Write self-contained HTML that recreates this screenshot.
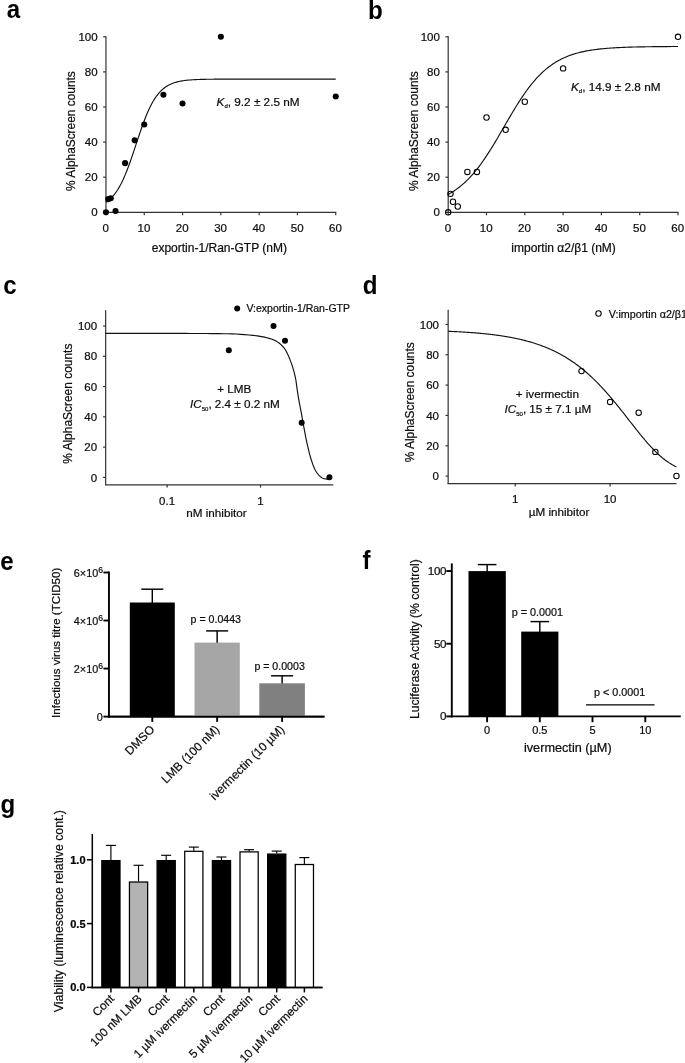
<!DOCTYPE html>
<html><head><meta charset="utf-8"><title>Figure</title>
<style>
html,body{margin:0;padding:0;background:#fff;}
svg{display:block;font-family:"Liberation Sans",sans-serif;will-change:transform;}
</style></head>
<body>
<svg width="685" height="1063" viewBox="0 0 685 1063">
<rect width="685" height="1063" fill="#fff"/>
<text transform="translate(6.80 17.60) scale(1.05,1.1)" font-size="23" font-weight="bold" fill="#000">a</text>
<text transform="translate(368.00 18.90) scale(1.05,1.1)" font-size="23" font-weight="bold" fill="#000">b</text>
<text transform="translate(3.20 293.90) scale(1.05,1.1)" font-size="23" font-weight="bold" fill="#000">c</text>
<text transform="translate(362.80 293.70) scale(1.05,1.1)" font-size="23" font-weight="bold" fill="#000">d</text>
<text transform="translate(0.30 569.50) scale(1.05,1.1)" font-size="23" font-weight="bold" fill="#000">e</text>
<text transform="translate(362.50 568.90) scale(1.05,1.1)" font-size="23" font-weight="bold" fill="#000">f</text>
<text transform="translate(0.40 813.10) scale(1.05,1.1)" font-size="23" font-weight="bold" fill="#000">g</text>
<line x1="105.95" y1="36.30" x2="105.95" y2="212.80" stroke="#333" stroke-width="1.2" />
<line x1="105.45" y1="212.30" x2="336.25" y2="212.30" stroke="#333" stroke-width="1.2" />
<line x1="103.15" y1="212.30" x2="105.95" y2="212.30" stroke="#333" stroke-width="1.2" />
<text x="97.65" y="216.40" font-size="11.5" text-anchor="end" fill="#0d0d0d" stroke="#0d0d0d" stroke-width="0.22" >0</text>
<line x1="103.15" y1="177.20" x2="105.95" y2="177.20" stroke="#333" stroke-width="1.2" />
<text x="97.65" y="181.30" font-size="11.5" text-anchor="end" fill="#0d0d0d" stroke="#0d0d0d" stroke-width="0.22" >20</text>
<line x1="103.15" y1="142.10" x2="105.95" y2="142.10" stroke="#333" stroke-width="1.2" />
<text x="97.65" y="146.20" font-size="11.5" text-anchor="end" fill="#0d0d0d" stroke="#0d0d0d" stroke-width="0.22" >40</text>
<line x1="103.15" y1="107.00" x2="105.95" y2="107.00" stroke="#333" stroke-width="1.2" />
<text x="97.65" y="111.10" font-size="11.5" text-anchor="end" fill="#0d0d0d" stroke="#0d0d0d" stroke-width="0.22" >60</text>
<line x1="103.15" y1="71.90" x2="105.95" y2="71.90" stroke="#333" stroke-width="1.2" />
<text x="97.65" y="76.00" font-size="11.5" text-anchor="end" fill="#0d0d0d" stroke="#0d0d0d" stroke-width="0.22" >80</text>
<line x1="103.15" y1="36.80" x2="105.95" y2="36.80" stroke="#333" stroke-width="1.2" />
<text x="97.65" y="40.90" font-size="11.5" text-anchor="end" fill="#0d0d0d" stroke="#0d0d0d" stroke-width="0.22" >100</text>
<line x1="105.95" y1="212.30" x2="105.95" y2="215.30" stroke="#333" stroke-width="1.2" />
<text x="105.65" y="231.70" font-size="11.5" text-anchor="middle" fill="#0d0d0d" stroke="#0d0d0d" stroke-width="0.22" >0</text>
<line x1="144.25" y1="212.30" x2="144.25" y2="215.30" stroke="#333" stroke-width="1.2" />
<text x="143.95" y="231.70" font-size="11.5" text-anchor="middle" fill="#0d0d0d" stroke="#0d0d0d" stroke-width="0.22" >10</text>
<line x1="182.55" y1="212.30" x2="182.55" y2="215.30" stroke="#333" stroke-width="1.2" />
<text x="182.25" y="231.70" font-size="11.5" text-anchor="middle" fill="#0d0d0d" stroke="#0d0d0d" stroke-width="0.22" >20</text>
<line x1="220.85" y1="212.30" x2="220.85" y2="215.30" stroke="#333" stroke-width="1.2" />
<text x="220.55" y="231.70" font-size="11.5" text-anchor="middle" fill="#0d0d0d" stroke="#0d0d0d" stroke-width="0.22" >30</text>
<line x1="259.15" y1="212.30" x2="259.15" y2="215.30" stroke="#333" stroke-width="1.2" />
<text x="258.85" y="231.70" font-size="11.5" text-anchor="middle" fill="#0d0d0d" stroke="#0d0d0d" stroke-width="0.22" >40</text>
<line x1="297.45" y1="212.30" x2="297.45" y2="215.30" stroke="#333" stroke-width="1.2" />
<text x="297.15" y="231.70" font-size="11.5" text-anchor="middle" fill="#0d0d0d" stroke="#0d0d0d" stroke-width="0.22" >50</text>
<line x1="335.75" y1="212.30" x2="335.75" y2="215.30" stroke="#333" stroke-width="1.2" />
<text x="335.45" y="231.70" font-size="11.5" text-anchor="middle" fill="#0d0d0d" stroke="#0d0d0d" stroke-width="0.22" >60</text>
<text x="75.45" y="131.05" font-size="11.9" text-anchor="middle" fill="#0d0d0d" stroke="#0d0d0d" stroke-width="0.22" transform="rotate(-90 75.45 131.05)" >% AlphaScreen counts</text>
<text x="219.35" y="251.50" font-size="12" text-anchor="middle" fill="#0d0d0d" stroke="#0d0d0d" stroke-width="0.22" >exportin-1/Ran-GTP (nM)</text>
<path d="M105.95,202.32 L107.10,201.52 L108.26,200.64 L109.41,199.67 L110.57,198.62 L111.72,197.46 L112.88,196.20 L114.03,194.83 L115.19,193.34 L116.34,191.73 L117.50,189.99 L118.65,188.11 L119.81,186.10 L120.96,183.94 L122.12,181.64 L123.27,179.20 L124.43,176.61 L125.58,173.88 L126.74,171.02 L127.89,168.04 L129.05,164.93 L130.20,161.72 L131.36,158.42 L132.51,155.04 L133.66,151.60 L134.82,148.13 L135.97,144.63 L137.13,141.13 L138.28,137.65 L139.44,134.21 L140.59,130.83 L141.75,127.52 L142.90,124.31 L144.06,121.19 L145.21,118.20 L146.37,115.33 L147.52,112.59 L148.68,109.99 L149.83,107.54 L150.99,105.23 L152.14,103.06 L153.30,101.04 L154.45,99.15 L155.61,97.40 L156.76,95.78 L157.91,94.28 L159.07,92.90 L160.22,91.64 L161.38,90.47 L162.53,89.41 L163.69,88.44 L164.84,87.55 L166.00,86.74 L167.15,86.01 L168.31,85.34 L169.46,84.73 L170.62,84.18 L171.77,83.68 L172.93,83.23 L174.08,82.82 L175.24,82.46 L176.39,82.12 L177.55,81.82 L178.70,81.55 L179.86,81.31 L181.01,81.08 L182.17,80.89 L183.32,80.71 L184.47,80.54 L185.63,80.40 L186.78,80.27 L187.94,80.15 L189.09,80.04 L190.25,79.95 L191.40,79.86 L192.56,79.78 L193.71,79.71 L194.87,79.65 L196.02,79.60 L197.18,79.55 L198.33,79.50 L199.49,79.46 L200.64,79.42 L201.80,79.39 L202.95,79.36 L204.11,79.33 L205.26,79.31 L206.42,79.29 L207.57,79.27 L208.72,79.25 L209.88,79.23 L211.03,79.22 L212.19,79.21 L213.34,79.20 L214.50,79.19 L215.65,79.18 L216.81,79.17 L217.96,79.16 L219.12,79.15 L220.27,79.15 L221.43,79.14 L222.58,79.14 L223.74,79.13 L224.89,79.13 L226.05,79.13 L227.20,79.12 L228.36,79.12 L229.51,79.12 L230.67,79.12 L231.82,79.11 L232.98,79.11 L234.13,79.11 L235.28,79.11 L236.44,79.11 L237.59,79.11 L238.75,79.11 L239.90,79.10 L241.06,79.10 L242.21,79.10 L243.37,79.10 L244.52,79.10 L245.68,79.10 L246.83,79.10 L247.99,79.10 L249.14,79.10 L250.30,79.10 L251.45,79.10 L252.61,79.10 L253.76,79.10 L254.92,79.10 L256.07,79.10 L257.23,79.10 L258.38,79.10 L259.53,79.10 L260.69,79.10 L261.84,79.10 L263.00,79.10 L264.15,79.10 L265.31,79.10 L266.46,79.10 L267.62,79.10 L268.77,79.10 L269.93,79.10 L271.08,79.10 L272.24,79.10 L273.39,79.10 L274.55,79.10 L275.70,79.10 L276.86,79.10 L278.01,79.10 L279.17,79.10 L280.32,79.10 L281.48,79.10 L282.63,79.10 L283.79,79.10 L284.94,79.10 L286.09,79.10 L287.25,79.10 L288.40,79.10 L289.56,79.10 L290.71,79.10 L291.87,79.10 L293.02,79.10 L294.18,79.10 L295.33,79.10 L296.49,79.10 L297.64,79.10 L298.80,79.10 L299.95,79.10 L301.11,79.10 L302.26,79.10 L303.42,79.10 L304.57,79.10 L305.73,79.10 L306.88,79.10 L308.04,79.10 L309.19,79.10 L310.34,79.10 L311.50,79.10 L312.65,79.10 L313.81,79.10 L314.96,79.10 L316.12,79.10 L317.27,79.10 L318.43,79.10 L319.58,79.10 L320.74,79.10 L321.89,79.10 L323.05,79.10 L324.20,79.10 L325.36,79.10 L326.51,79.10 L327.67,79.10 L328.82,79.10 L329.98,79.10 L331.13,79.10 L332.29,79.10 L333.44,79.10 L334.60,79.10 L335.75,79.10" fill="none" stroke="#111" stroke-width="1.15" stroke-linejoin="round"/>
<circle cx="105.95" cy="212.30" r="3.05" fill="#000" stroke="none" stroke-width="1"/>
<circle cx="108.25" cy="199.14" r="3.05" fill="#000" stroke="none" stroke-width="1"/>
<circle cx="110.74" cy="198.26" r="3.05" fill="#000" stroke="none" stroke-width="1"/>
<circle cx="115.53" cy="211.07" r="3.05" fill="#000" stroke="none" stroke-width="1"/>
<circle cx="125.10" cy="163.16" r="3.05" fill="#000" stroke="none" stroke-width="1"/>
<circle cx="134.68" cy="140.35" r="3.05" fill="#000" stroke="none" stroke-width="1"/>
<circle cx="144.25" cy="124.55" r="3.05" fill="#000" stroke="none" stroke-width="1"/>
<circle cx="163.40" cy="94.72" r="3.05" fill="#000" stroke="none" stroke-width="1"/>
<circle cx="182.55" cy="103.49" r="3.05" fill="#000" stroke="none" stroke-width="1"/>
<circle cx="220.85" cy="36.80" r="3.05" fill="#000" stroke="none" stroke-width="1"/>
<circle cx="335.75" cy="96.47" r="3.05" fill="#000" stroke="none" stroke-width="1"/>
<text x="216.60" y="106.20" font-size="11.75" text-anchor="start" fill="#0d0d0d" stroke="#0d0d0d" stroke-width="0.22" ><tspan font-style="italic">K</tspan><tspan font-size="6" dy="2.2">d</tspan><tspan dy="-2.2">, 9.2 ± 2.5 nM</tspan></text>
<line x1="448.20" y1="36.30" x2="448.20" y2="212.80" stroke="#333" stroke-width="1.2" />
<line x1="447.70" y1="212.30" x2="678.50" y2="212.30" stroke="#333" stroke-width="1.2" />
<line x1="445.40" y1="212.30" x2="448.20" y2="212.30" stroke="#333" stroke-width="1.2" />
<text x="439.90" y="216.40" font-size="11.5" text-anchor="end" fill="#0d0d0d" stroke="#0d0d0d" stroke-width="0.22" >0</text>
<line x1="445.40" y1="177.20" x2="448.20" y2="177.20" stroke="#333" stroke-width="1.2" />
<text x="439.90" y="181.30" font-size="11.5" text-anchor="end" fill="#0d0d0d" stroke="#0d0d0d" stroke-width="0.22" >20</text>
<line x1="445.40" y1="142.10" x2="448.20" y2="142.10" stroke="#333" stroke-width="1.2" />
<text x="439.90" y="146.20" font-size="11.5" text-anchor="end" fill="#0d0d0d" stroke="#0d0d0d" stroke-width="0.22" >40</text>
<line x1="445.40" y1="107.00" x2="448.20" y2="107.00" stroke="#333" stroke-width="1.2" />
<text x="439.90" y="111.10" font-size="11.5" text-anchor="end" fill="#0d0d0d" stroke="#0d0d0d" stroke-width="0.22" >60</text>
<line x1="445.40" y1="71.90" x2="448.20" y2="71.90" stroke="#333" stroke-width="1.2" />
<text x="439.90" y="76.00" font-size="11.5" text-anchor="end" fill="#0d0d0d" stroke="#0d0d0d" stroke-width="0.22" >80</text>
<line x1="445.40" y1="36.80" x2="448.20" y2="36.80" stroke="#333" stroke-width="1.2" />
<text x="439.90" y="40.90" font-size="11.5" text-anchor="end" fill="#0d0d0d" stroke="#0d0d0d" stroke-width="0.22" >100</text>
<line x1="448.20" y1="212.30" x2="448.20" y2="215.30" stroke="#333" stroke-width="1.2" />
<text x="447.90" y="231.70" font-size="11.5" text-anchor="middle" fill="#0d0d0d" stroke="#0d0d0d" stroke-width="0.22" >0</text>
<line x1="486.50" y1="212.30" x2="486.50" y2="215.30" stroke="#333" stroke-width="1.2" />
<text x="486.20" y="231.70" font-size="11.5" text-anchor="middle" fill="#0d0d0d" stroke="#0d0d0d" stroke-width="0.22" >10</text>
<line x1="524.80" y1="212.30" x2="524.80" y2="215.30" stroke="#333" stroke-width="1.2" />
<text x="524.50" y="231.70" font-size="11.5" text-anchor="middle" fill="#0d0d0d" stroke="#0d0d0d" stroke-width="0.22" >20</text>
<line x1="563.10" y1="212.30" x2="563.10" y2="215.30" stroke="#333" stroke-width="1.2" />
<text x="562.80" y="231.70" font-size="11.5" text-anchor="middle" fill="#0d0d0d" stroke="#0d0d0d" stroke-width="0.22" >30</text>
<line x1="601.40" y1="212.30" x2="601.40" y2="215.30" stroke="#333" stroke-width="1.2" />
<text x="601.10" y="231.70" font-size="11.5" text-anchor="middle" fill="#0d0d0d" stroke="#0d0d0d" stroke-width="0.22" >40</text>
<line x1="639.70" y1="212.30" x2="639.70" y2="215.30" stroke="#333" stroke-width="1.2" />
<text x="639.40" y="231.70" font-size="11.5" text-anchor="middle" fill="#0d0d0d" stroke="#0d0d0d" stroke-width="0.22" >50</text>
<line x1="678.00" y1="212.30" x2="678.00" y2="215.30" stroke="#333" stroke-width="1.2" />
<text x="677.70" y="231.70" font-size="11.5" text-anchor="middle" fill="#0d0d0d" stroke="#0d0d0d" stroke-width="0.22" >60</text>
<text x="417.70" y="131.05" font-size="11.9" text-anchor="middle" fill="#0d0d0d" stroke="#0d0d0d" stroke-width="0.22" transform="rotate(-90 417.70 131.05)" >% AlphaScreen counts</text>
<text x="563.60" y="251.50" font-size="12" text-anchor="middle" fill="#0d0d0d" stroke="#0d0d0d" stroke-width="0.22" >importin α2/β1 (nM)</text>
<path d="M448.20,194.36 L449.35,193.73 L450.51,193.08 L451.66,192.39 L452.82,191.68 L453.97,190.94 L455.13,190.17 L456.28,189.37 L457.44,188.54 L458.59,187.67 L459.75,186.78 L460.90,185.85 L462.06,184.88 L463.21,183.89 L464.37,182.85 L465.52,181.79 L466.68,180.68 L467.83,179.54 L468.99,178.36 L470.14,177.14 L471.30,175.89 L472.45,174.60 L473.61,173.26 L474.76,171.90 L475.91,170.49 L477.07,169.05 L478.22,167.56 L479.38,166.04 L480.53,164.49 L481.69,162.90 L482.84,161.27 L484.00,159.61 L485.15,157.92 L486.31,156.19 L487.46,154.43 L488.62,152.65 L489.77,150.83 L490.93,148.99 L492.08,147.13 L493.24,145.24 L494.39,143.33 L495.55,141.40 L496.70,139.45 L497.86,137.49 L499.01,135.52 L500.16,133.54 L501.32,131.55 L502.47,129.55 L503.63,127.55 L504.78,125.56 L505.94,123.56 L507.09,121.57 L508.25,119.58 L509.40,117.60 L510.56,115.64 L511.71,113.69 L512.87,111.75 L514.02,109.84 L515.18,107.94 L516.33,106.07 L517.49,104.22 L518.64,102.39 L519.80,100.60 L520.95,98.83 L522.11,97.09 L523.26,95.39 L524.42,93.72 L525.57,92.08 L526.72,90.47 L527.88,88.91 L529.03,87.38 L530.19,85.88 L531.34,84.42 L532.50,83.00 L533.65,81.62 L534.81,80.28 L535.96,78.97 L537.12,77.71 L538.27,76.48 L539.43,75.28 L540.58,74.13 L541.74,73.01 L542.89,71.93 L544.05,70.89 L545.20,69.88 L546.36,68.90 L547.51,67.96 L548.67,67.05 L549.82,66.18 L550.97,65.34 L552.13,64.53 L553.28,63.74 L554.44,62.99 L555.59,62.27 L556.75,61.58 L557.90,60.91 L559.06,60.27 L560.21,59.66 L561.37,59.07 L562.52,58.50 L563.68,57.96 L564.83,57.44 L565.99,56.95 L567.14,56.47 L568.30,56.01 L569.45,55.57 L570.61,55.16 L571.76,54.76 L572.92,54.37 L574.07,54.01 L575.23,53.66 L576.38,53.32 L577.53,53.00 L578.69,52.70 L579.84,52.41 L581.00,52.13 L582.15,51.86 L583.31,51.61 L584.46,51.36 L585.62,51.13 L586.77,50.91 L587.93,50.70 L589.08,50.50 L590.24,50.31 L591.39,50.12 L592.55,49.95 L593.70,49.78 L594.86,49.62 L596.01,49.47 L597.17,49.32 L598.32,49.19 L599.48,49.06 L600.63,48.93 L601.78,48.81 L602.94,48.70 L604.09,48.59 L605.25,48.48 L606.40,48.39 L607.56,48.29 L608.71,48.20 L609.87,48.12 L611.02,48.04 L612.18,47.96 L613.33,47.88 L614.49,47.81 L615.64,47.75 L616.80,47.68 L617.95,47.62 L619.11,47.57 L620.26,47.51 L621.42,47.46 L622.57,47.41 L623.73,47.36 L624.88,47.32 L626.04,47.27 L627.19,47.23 L628.34,47.19 L629.50,47.15 L630.65,47.12 L631.81,47.09 L632.96,47.05 L634.12,47.02 L635.27,46.99 L636.43,46.97 L637.58,46.94 L638.74,46.91 L639.89,46.89 L641.05,46.87 L642.20,46.85 L643.36,46.83 L644.51,46.81 L645.67,46.79 L646.82,46.77 L647.98,46.75 L649.13,46.74 L650.29,46.72 L651.44,46.71 L652.59,46.69 L653.75,46.68 L654.90,46.67 L656.06,46.65 L657.21,46.64 L658.37,46.63 L659.52,46.62 L660.68,46.61 L661.83,46.60 L662.99,46.59 L664.14,46.59 L665.30,46.58 L666.45,46.57 L667.61,46.56 L668.76,46.55 L669.92,46.55 L671.07,46.54 L672.23,46.54 L673.38,46.53 L674.54,46.52 L675.69,46.52 L676.85,46.51 L678.00,46.51" fill="none" stroke="#111" stroke-width="1.15" stroke-linejoin="round"/>
<circle cx="448.20" cy="212.30" r="2.7" fill="none" stroke="#000" stroke-width="1.05"/>
<circle cx="450.50" cy="193.87" r="2.7" fill="none" stroke="#000" stroke-width="1.05"/>
<circle cx="452.99" cy="201.77" r="2.7" fill="none" stroke="#000" stroke-width="1.05"/>
<circle cx="457.77" cy="206.51" r="2.7" fill="none" stroke="#000" stroke-width="1.05"/>
<circle cx="467.35" cy="171.94" r="2.7" fill="none" stroke="#000" stroke-width="1.05"/>
<circle cx="476.93" cy="171.94" r="2.7" fill="none" stroke="#000" stroke-width="1.05"/>
<circle cx="486.50" cy="117.53" r="2.7" fill="none" stroke="#000" stroke-width="1.05"/>
<circle cx="505.65" cy="129.81" r="2.7" fill="none" stroke="#000" stroke-width="1.05"/>
<circle cx="524.80" cy="101.74" r="2.7" fill="none" stroke="#000" stroke-width="1.05"/>
<circle cx="563.10" cy="68.39" r="2.7" fill="none" stroke="#000" stroke-width="1.05"/>
<circle cx="678.00" cy="36.80" r="2.7" fill="none" stroke="#000" stroke-width="1.05"/>
<text x="571.00" y="91.00" font-size="11.75" text-anchor="start" fill="#0d0d0d" stroke="#0d0d0d" stroke-width="0.22" ><tspan font-style="italic">K</tspan><tspan font-size="6" dy="2.2">d</tspan><tspan dy="-2.2">, 14.9 ± 2.8 nM</tspan></text>
<line x1="105.65" y1="310.30" x2="105.65" y2="485.30" stroke="#333" stroke-width="1.2" />
<line x1="105.15" y1="484.80" x2="333.30" y2="484.80" stroke="#333" stroke-width="1.2" />
<line x1="103.05" y1="477.40" x2="105.65" y2="477.40" stroke="#333" stroke-width="1.2" />
<text x="97.10" y="481.60" font-size="11.5" text-anchor="end" fill="#0d0d0d" stroke="#0d0d0d" stroke-width="0.22" >0</text>
<line x1="103.05" y1="447.12" x2="105.65" y2="447.12" stroke="#333" stroke-width="1.2" />
<text x="97.10" y="451.32" font-size="11.5" text-anchor="end" fill="#0d0d0d" stroke="#0d0d0d" stroke-width="0.22" >20</text>
<line x1="103.05" y1="416.84" x2="105.65" y2="416.84" stroke="#333" stroke-width="1.2" />
<text x="97.10" y="421.04" font-size="11.5" text-anchor="end" fill="#0d0d0d" stroke="#0d0d0d" stroke-width="0.22" >40</text>
<line x1="103.05" y1="386.56" x2="105.65" y2="386.56" stroke="#333" stroke-width="1.2" />
<text x="97.10" y="390.76" font-size="11.5" text-anchor="end" fill="#0d0d0d" stroke="#0d0d0d" stroke-width="0.22" >60</text>
<line x1="103.05" y1="356.28" x2="105.65" y2="356.28" stroke="#333" stroke-width="1.2" />
<text x="97.10" y="360.48" font-size="11.5" text-anchor="end" fill="#0d0d0d" stroke="#0d0d0d" stroke-width="0.22" >80</text>
<line x1="103.05" y1="326.00" x2="105.65" y2="326.00" stroke="#333" stroke-width="1.2" />
<text x="97.10" y="330.20" font-size="11.5" text-anchor="end" fill="#0d0d0d" stroke="#0d0d0d" stroke-width="0.22" >100</text>
<line x1="167.10" y1="484.80" x2="167.10" y2="487.60" stroke="#333" stroke-width="1.2" />
<text x="167.10" y="505.30" font-size="11.5" text-anchor="middle" fill="#0d0d0d" stroke="#0d0d0d" stroke-width="0.22" >0.1</text>
<line x1="260.50" y1="484.80" x2="260.50" y2="487.60" stroke="#333" stroke-width="1.2" />
<text x="260.50" y="505.30" font-size="11.5" text-anchor="middle" fill="#0d0d0d" stroke="#0d0d0d" stroke-width="0.22" >1</text>
<text x="72.50" y="403.70" font-size="11.95" text-anchor="middle" fill="#0d0d0d" stroke="#0d0d0d" stroke-width="0.22" transform="rotate(-90 72.50 403.70)" >% AlphaScreen counts</text>
<text x="216.50" y="517.30" font-size="11.7" text-anchor="middle" fill="#0d0d0d" stroke="#0d0d0d" stroke-width="0.22" >nM inhibitor</text>
<path d="M105.65,333.40 L109.86,333.40 L114.08,333.40 L118.29,333.40 L122.51,333.40 L126.72,333.40 L130.93,333.40 L135.15,333.40 L139.36,333.40 L143.58,333.40 L147.79,333.40 L152.01,333.40 L156.22,333.40 L160.43,333.40 L164.65,333.40 L168.86,333.40 L173.08,333.40 L177.29,333.41 L181.50,333.42 L185.72,333.43 L189.93,333.45 L194.15,333.47 L198.36,333.49 L202.57,333.52 L206.79,333.55 L211.00,333.59 L215.22,333.63 L219.43,333.67 L223.64,333.72 L227.86,333.77 L232.07,333.85 L236.29,334.04 L240.50,334.32 L244.72,334.62 L248.93,334.99 L253.14,335.43 L257.36,335.94 L261.57,336.58 L265.79,337.43 L270.00,338.58 L270.37,338.70 L270.75,338.82 L271.12,338.95 L271.49,339.08 L271.87,339.21 L272.24,339.35 L272.62,339.49 L272.99,339.64 L273.36,339.79 L273.74,339.94 L274.11,340.10 L274.48,340.27 L274.86,340.44 L275.23,340.62 L275.60,340.80 L275.98,340.99 L276.35,341.19 L276.72,341.40 L277.10,341.63 L277.47,341.88 L277.85,342.13 L278.22,342.40 L278.59,342.67 L278.97,342.96 L279.34,343.25 L279.71,343.55 L280.09,343.85 L280.46,344.17 L280.83,344.51 L281.21,344.86 L281.58,345.23 L281.95,345.61 L282.33,346.01 L282.70,346.41 L283.08,346.83 L283.45,347.27 L283.82,347.72 L284.20,348.20 L284.57,348.70 L284.94,349.22 L285.32,349.78 L285.69,350.38 L286.06,351.02 L286.44,351.69 L286.81,352.40 L287.18,353.14 L287.56,353.90 L287.93,354.68 L288.31,355.50 L288.68,356.36 L289.05,357.25 L289.43,358.18 L289.80,359.13 L290.17,360.10 L290.55,361.09 L290.92,362.09 L291.29,363.11 L291.67,364.16 L292.04,365.25 L292.42,366.38 L292.79,367.57 L293.16,368.81 L293.54,370.09 L293.91,371.41 L294.28,372.79 L294.66,374.26 L295.03,375.85 L295.40,377.59 L295.78,379.53 L296.15,381.96 L296.52,384.78 L296.90,387.65 L297.27,390.27 L297.65,392.70 L298.02,395.06 L298.39,397.34 L298.77,399.54 L299.14,401.63 L299.51,403.60 L299.89,405.51 L300.26,407.39 L300.63,409.30 L301.01,411.28 L301.38,413.32 L301.75,415.40 L302.13,417.48 L302.50,419.56 L302.88,421.62 L303.25,423.68 L303.62,425.74 L304.00,427.78 L304.37,429.80 L304.74,431.81 L305.12,433.81 L305.49,435.80 L305.86,437.74 L306.24,439.60 L306.61,441.37 L306.98,443.07 L307.36,444.71 L307.73,446.32 L308.11,447.90 L308.48,449.47 L308.85,451.03 L309.23,452.56 L309.60,454.04 L309.97,455.44 L310.35,456.77 L310.72,458.03 L311.09,459.24 L311.47,460.41 L311.84,461.53 L312.22,462.62 L312.59,463.69 L312.96,464.72 L313.34,465.70 L313.71,466.64 L314.08,467.53 L314.46,468.39 L314.83,469.20 L315.20,469.97 L315.58,470.68 L315.95,471.33 L316.32,471.92 L316.70,472.48 L317.07,473.01 L317.45,473.50 L317.82,473.97 L318.19,474.42 L318.57,474.85 L318.94,475.25 L319.31,475.62 L319.69,475.97 L320.06,476.32 L320.43,476.66 L320.81,476.99 L321.18,477.30 L321.55,477.57 L321.93,477.81 L322.30,478.00 L322.68,478.16 L323.05,478.31 L323.42,478.45 L323.80,478.57 L324.17,478.68 L324.54,478.77 L324.92,478.85 L325.29,478.91 L325.66,478.97 L326.04,479.03 L326.41,479.08 L326.78,479.13 L327.16,479.16 L327.53,479.19 L327.91,479.20 L328.28,479.18 L328.65,479.12 L329.03,479.02 L329.40,478.90" fill="none" stroke="#111" stroke-width="1.15" stroke-linejoin="round"/>
<circle cx="228.82" cy="350.30" r="3.0" fill="#000" stroke="none" stroke-width="1"/>
<circle cx="273.51" cy="325.89" r="3.0" fill="#000" stroke="none" stroke-width="1"/>
<circle cx="285.01" cy="340.69" r="3.0" fill="#000" stroke="none" stroke-width="1"/>
<circle cx="301.68" cy="422.81" r="3.0" fill="#000" stroke="none" stroke-width="1"/>
<circle cx="329.43" cy="477.20" r="3.0" fill="#000" stroke="none" stroke-width="1"/>
<circle cx="237.20" cy="308.40" r="3.0" fill="#000" stroke="none" stroke-width="1"/>
<text x="246.50" y="311.80" font-size="10.5" text-anchor="start" fill="#0d0d0d" stroke="#0d0d0d" stroke-width="0.22" >V:exportin-1/Ran-GTP</text>
<text x="234.20" y="392.50" font-size="11.7" text-anchor="middle" fill="#0d0d0d" stroke="#0d0d0d" stroke-width="0.22" >+ LMB</text>
<text x="190.00" y="408.00" font-size="11.7" text-anchor="start" fill="#0d0d0d" stroke="#0d0d0d" stroke-width="0.22" ><tspan font-style="italic">IC</tspan><tspan font-size="6" dy="2.5">50</tspan><tspan dy="-2.5">, 2.4 ± 0.2 nM</tspan></text>
<line x1="448.15" y1="309.80" x2="448.15" y2="484.10" stroke="#333" stroke-width="1.2" />
<line x1="447.65" y1="483.60" x2="676.50" y2="483.60" stroke="#333" stroke-width="1.2" />
<line x1="445.55" y1="476.10" x2="448.15" y2="476.10" stroke="#333" stroke-width="1.2" />
<text x="438.95" y="480.30" font-size="11.5" text-anchor="end" fill="#0d0d0d" stroke="#0d0d0d" stroke-width="0.22" >0</text>
<line x1="445.55" y1="445.76" x2="448.15" y2="445.76" stroke="#333" stroke-width="1.2" />
<text x="438.95" y="449.96" font-size="11.5" text-anchor="end" fill="#0d0d0d" stroke="#0d0d0d" stroke-width="0.22" >20</text>
<line x1="445.55" y1="415.42" x2="448.15" y2="415.42" stroke="#333" stroke-width="1.2" />
<text x="438.95" y="419.62" font-size="11.5" text-anchor="end" fill="#0d0d0d" stroke="#0d0d0d" stroke-width="0.22" >40</text>
<line x1="445.55" y1="385.08" x2="448.15" y2="385.08" stroke="#333" stroke-width="1.2" />
<text x="438.95" y="389.28" font-size="11.5" text-anchor="end" fill="#0d0d0d" stroke="#0d0d0d" stroke-width="0.22" >60</text>
<line x1="445.55" y1="354.74" x2="448.15" y2="354.74" stroke="#333" stroke-width="1.2" />
<text x="438.95" y="358.94" font-size="11.5" text-anchor="end" fill="#0d0d0d" stroke="#0d0d0d" stroke-width="0.22" >80</text>
<line x1="445.55" y1="324.40" x2="448.15" y2="324.40" stroke="#333" stroke-width="1.2" />
<text x="438.95" y="328.60" font-size="11.5" text-anchor="end" fill="#0d0d0d" stroke="#0d0d0d" stroke-width="0.22" >100</text>
<line x1="515.20" y1="483.60" x2="515.20" y2="486.40" stroke="#333" stroke-width="1.2" />
<text x="515.20" y="503.10" font-size="11.5" text-anchor="middle" fill="#0d0d0d" stroke="#0d0d0d" stroke-width="0.22" >1</text>
<line x1="610.10" y1="483.60" x2="610.10" y2="486.40" stroke="#333" stroke-width="1.2" />
<text x="610.10" y="503.10" font-size="11.5" text-anchor="middle" fill="#0d0d0d" stroke="#0d0d0d" stroke-width="0.22" >10</text>
<text x="413.85" y="402.25" font-size="11.95" text-anchor="middle" fill="#0d0d0d" stroke="#0d0d0d" stroke-width="0.22" transform="rotate(-90 413.85 402.25)" >% AlphaScreen counts</text>
<text x="559.00" y="516.10" font-size="11.7" text-anchor="middle" fill="#0d0d0d" stroke="#0d0d0d" stroke-width="0.22" >µM inhibitor</text>
<path d="M448.15,331.28 L448.91,331.31 L449.68,331.34 L450.44,331.38 L451.20,331.41 L451.97,331.45 L452.73,331.48 L453.49,331.52 L454.26,331.56 L455.02,331.59 L455.78,331.63 L456.55,331.67 L457.31,331.71 L458.08,331.75 L458.84,331.80 L459.60,331.84 L460.37,331.88 L461.13,331.93 L461.89,331.97 L462.66,332.02 L463.42,332.06 L464.18,332.11 L464.95,332.16 L465.71,332.21 L466.47,332.26 L467.24,332.31 L468.00,332.36 L468.76,332.41 L469.53,332.47 L470.29,332.52 L471.05,332.58 L471.82,332.63 L472.58,332.69 L473.35,332.75 L474.11,332.81 L474.87,332.87 L475.64,332.93 L476.40,333.00 L477.16,333.06 L477.93,333.13 L478.69,333.19 L479.45,333.26 L480.22,333.33 L480.98,333.40 L481.74,333.47 L482.51,333.55 L483.27,333.62 L484.03,333.70 L484.80,333.77 L485.56,333.85 L486.32,333.93 L487.09,334.01 L487.85,334.10 L488.61,334.18 L489.38,334.27 L490.14,334.35 L490.91,334.44 L491.67,334.53 L492.43,334.63 L493.20,334.72 L493.96,334.82 L494.72,334.91 L495.49,335.01 L496.25,335.11 L497.01,335.22 L497.78,335.32 L498.54,335.43 L499.30,335.54 L500.07,335.65 L500.83,335.76 L501.59,335.87 L502.36,335.99 L503.12,336.11 L503.88,336.23 L504.65,336.35 L505.41,336.48 L506.17,336.60 L506.94,336.73 L507.70,336.86 L508.47,337.00 L509.23,337.13 L509.99,337.27 L510.76,337.41 L511.52,337.56 L512.28,337.70 L513.05,337.85 L513.81,338.00 L514.57,338.16 L515.34,338.31 L516.10,338.47 L516.86,338.64 L517.63,338.80 L518.39,338.97 L519.15,339.14 L519.92,339.31 L520.68,339.49 L521.44,339.67 L522.21,339.85 L522.97,340.04 L523.74,340.23 L524.50,340.42 L525.26,340.62 L526.03,340.82 L526.79,341.02 L527.55,341.23 L528.32,341.44 L529.08,341.65 L529.84,341.87 L530.61,342.09 L531.37,342.31 L532.13,342.54 L532.90,342.77 L533.66,343.01 L534.42,343.25 L535.19,343.49 L535.95,343.74 L536.71,343.99 L537.48,344.25 L538.24,344.51 L539.00,344.77 L539.77,345.04 L540.53,345.32 L541.30,345.60 L542.06,345.88 L542.82,346.17 L543.59,346.46 L544.35,346.76 L545.11,347.06 L545.88,347.36 L546.64,347.68 L547.40,347.99 L548.17,348.31 L548.93,348.64 L549.69,348.97 L550.46,349.31 L551.22,349.65 L551.98,350.00 L552.75,350.36 L553.51,350.72 L554.27,351.08 L555.04,351.45 L555.80,351.83 L556.56,352.21 L557.33,352.60 L558.09,352.99 L558.86,353.39 L559.62,353.80 L560.38,354.21 L561.15,354.63 L561.91,355.06 L562.67,355.49 L563.44,355.93 L564.20,356.37 L564.96,356.82 L565.73,357.28 L566.49,357.75 L567.25,358.22 L568.02,358.70 L568.78,359.18 L569.54,359.67 L570.31,360.17 L571.07,360.68 L571.83,361.19 L572.60,361.71 L573.36,362.24 L574.13,362.77 L574.89,363.32 L575.65,363.87 L576.42,364.42 L577.18,364.99 L577.94,365.56 L578.71,366.14 L579.47,366.73 L580.23,367.32 L581.00,367.93 L581.76,368.54 L582.52,369.15 L583.29,369.78 L584.05,370.41 L584.81,371.06 L585.58,371.70 L586.34,372.36 L587.10,373.03 L587.87,373.70 L588.63,374.38 L589.39,375.07 L590.16,375.77 L590.92,376.47 L591.69,377.19 L592.45,377.91 L593.21,378.64 L593.98,379.37 L594.74,380.12 L595.50,380.87 L596.27,381.63 L597.03,382.40 L597.79,383.17 L598.56,383.96 L599.32,384.75 L600.08,385.55 L600.85,386.35 L601.61,387.17 L602.37,387.99 L603.14,388.81 L603.90,389.65 L604.66,390.49 L605.43,391.34 L606.19,392.20 L606.96,393.06 L607.72,393.93 L608.48,394.81 L609.25,395.69 L610.01,396.58 L610.77,397.47 L611.54,398.37 L612.30,399.28 L613.06,400.19 L613.83,401.11 L614.59,402.04 L615.35,402.96 L616.12,403.90 L616.88,404.83 L617.64,405.78 L618.41,406.72 L619.17,407.67 L619.93,408.63 L620.70,409.59 L621.46,410.55 L622.22,411.51 L622.99,412.48 L623.75,413.45 L624.52,414.42 L625.28,415.39 L626.04,416.37 L626.81,417.34 L627.57,418.32 L628.33,419.30 L629.10,420.28 L629.86,421.25 L630.62,422.23 L631.39,423.21 L632.15,424.18 L632.91,425.16 L633.68,426.13 L634.44,427.10 L635.20,428.07 L635.97,429.03 L636.73,430.00 L637.49,430.96 L638.26,431.91 L639.02,432.86 L639.78,433.80 L640.55,434.74 L641.31,435.68 L642.08,436.61 L642.84,437.53 L643.60,438.44 L644.37,439.35 L645.13,440.25 L645.89,441.15 L646.66,442.03 L647.42,442.91 L648.18,443.77 L648.95,444.63 L649.71,445.48 L650.47,446.31 L651.24,447.14 L652.00,447.96 L652.76,448.76 L653.53,449.56 L654.29,450.34 L655.05,451.11 L655.82,451.86 L656.58,452.61 L657.35,453.34 L658.11,454.06 L658.87,454.76 L659.64,455.45 L660.40,456.13 L661.16,456.79 L661.93,457.44 L662.69,458.07 L663.45,458.69 L664.22,459.30 L664.98,459.89 L665.74,460.46 L666.51,461.02 L667.27,461.56 L668.03,462.09 L668.80,462.61 L669.56,463.11 L670.32,463.59 L671.09,464.06 L671.85,464.51 L672.61,464.95 L673.38,465.37 L674.14,465.78 L674.91,466.18 L675.67,466.55 L676.43,466.92" fill="none" stroke="#111" stroke-width="1.15" stroke-linejoin="round"/>
<circle cx="581.53" cy="371.12" r="2.7" fill="none" stroke="#000" stroke-width="1.05"/>
<circle cx="610.10" cy="401.92" r="2.7" fill="none" stroke="#000" stroke-width="1.05"/>
<circle cx="638.67" cy="412.69" r="2.7" fill="none" stroke="#000" stroke-width="1.05"/>
<circle cx="655.38" cy="451.90" r="2.7" fill="none" stroke="#000" stroke-width="1.05"/>
<circle cx="676.43" cy="475.99" r="2.7" fill="none" stroke="#000" stroke-width="1.05"/>
<circle cx="598.50" cy="313.50" r="2.7" fill="none" stroke="#000" stroke-width="1.05"/>
<text x="608.70" y="317.70" font-size="10.75" text-anchor="start" fill="#0d0d0d" stroke="#0d0d0d" stroke-width="0.22" >V:importin α2/β1</text>
<text x="547.30" y="397.90" font-size="11.7" text-anchor="middle" fill="#0d0d0d" stroke="#0d0d0d" stroke-width="0.22" >+ ivermectin</text>
<text x="504.50" y="413.00" font-size="11.7" text-anchor="start" fill="#0d0d0d" stroke="#0d0d0d" stroke-width="0.22" ><tspan font-style="italic">IC</tspan><tspan font-size="6" dy="2.5">50</tspan><tspan dy="-2.5">, 15 ± 7.1 µM</tspan></text>
<line x1="108.95" y1="571.40" x2="108.95" y2="717.55" stroke="#000" stroke-width="1.9" />
<line x1="108.00" y1="716.60" x2="324.50" y2="716.60" stroke="#000" stroke-width="1.9" />
<line x1="103.45" y1="716.60" x2="108.95" y2="716.60" stroke="#000" stroke-width="1.9" />
<text x="102.65" y="720.50" font-size="10.8" text-anchor="end" fill="#0d0d0d" stroke="#0d0d0d" stroke-width="0.22" >0</text>
<line x1="103.45" y1="668.57" x2="108.95" y2="668.57" stroke="#000" stroke-width="1.9" />
<text x="102.95" y="672.57" font-size="10.8" text-anchor="end" fill="#0d0d0d" stroke="#0d0d0d" stroke-width="0.22" >2×10<tspan font-size="8.6" dy="-3.6">6</tspan></text>
<line x1="103.45" y1="620.54" x2="108.95" y2="620.54" stroke="#000" stroke-width="1.9" />
<text x="102.95" y="624.54" font-size="10.8" text-anchor="end" fill="#0d0d0d" stroke="#0d0d0d" stroke-width="0.22" >4×10<tspan font-size="8.6" dy="-3.6">6</tspan></text>
<line x1="103.45" y1="572.51" x2="108.95" y2="572.51" stroke="#000" stroke-width="1.9" />
<text x="102.95" y="576.51" font-size="10.8" text-anchor="end" fill="#0d0d0d" stroke="#0d0d0d" stroke-width="0.22" >6×10<tspan font-size="8.6" dy="-3.6">6</tspan></text>
<text x="60.00" y="642.80" font-size="11.55" text-anchor="middle" fill="#0d0d0d" stroke="#0d0d0d" stroke-width="0.22" transform="rotate(-90 60.00 642.80)" >Infectious virus titre (TCID50)</text>
<line x1="152.30" y1="589.20" x2="152.30" y2="603.50" stroke="#000" stroke-width="1.45" />
<line x1="141.30" y1="589.20" x2="163.30" y2="589.20" stroke="#000" stroke-width="1.45" />
<rect x="129.8" y="602.5" width="45.00" height="114.10" fill="#000"/>
<line x1="152.30" y1="716.60" x2="152.30" y2="721.90" stroke="#000" stroke-width="1.9" />
<line x1="217.15" y1="630.90" x2="217.15" y2="643.60" stroke="#000" stroke-width="1.45" />
<line x1="206.15" y1="630.90" x2="228.15" y2="630.90" stroke="#000" stroke-width="1.45" />
<rect x="194.5" y="642.6" width="45.30" height="74.00" fill="#a6a6a6"/>
<line x1="217.15" y1="716.60" x2="217.15" y2="721.90" stroke="#000" stroke-width="1.9" />
<line x1="282.10" y1="675.80" x2="282.10" y2="684.30" stroke="#000" stroke-width="1.45" />
<line x1="271.10" y1="675.80" x2="293.10" y2="675.80" stroke="#000" stroke-width="1.45" />
<rect x="259.3" y="683.3" width="45.60" height="33.30" fill="#808080"/>
<line x1="282.10" y1="716.60" x2="282.10" y2="721.90" stroke="#000" stroke-width="1.9" />
<line x1="108.00" y1="716.60" x2="324.50" y2="716.60" stroke="#000" stroke-width="1.9" />
<text x="215.80" y="622.70" font-size="10.6" text-anchor="middle" fill="#0d0d0d" stroke="#0d0d0d" stroke-width="0.22" >p = 0.0443</text>
<text x="279.60" y="669.90" font-size="10.6" text-anchor="middle" fill="#0d0d0d" stroke="#0d0d0d" stroke-width="0.22" >p = 0.0003</text>
<text x="155.30" y="730.20" font-size="12" text-anchor="end" fill="#0d0d0d" stroke="#0d0d0d" stroke-width="0.22" transform="rotate(-45 155.30 730.20)" >DMSO</text>
<text x="220.10" y="730.20" font-size="12" text-anchor="end" fill="#0d0d0d" stroke="#0d0d0d" stroke-width="0.22" transform="rotate(-45 220.10 730.20)" >LMB (100 nM)</text>
<text x="285.10" y="730.20" font-size="12" text-anchor="end" fill="#0d0d0d" stroke="#0d0d0d" stroke-width="0.22" transform="rotate(-45 285.10 730.20)" >ivermectin (10 µM)</text>
<line x1="451.80" y1="563.40" x2="451.80" y2="717.35" stroke="#000" stroke-width="1.9" />
<line x1="450.85" y1="716.40" x2="680.80" y2="716.40" stroke="#000" stroke-width="1.9" />
<line x1="446.30" y1="716.40" x2="451.80" y2="716.40" stroke="#000" stroke-width="1.9" />
<text x="446.10" y="720.40" font-size="11.6" text-anchor="end" fill="#0d0d0d" stroke="#0d0d0d" stroke-width="0.22" letter-spacing="-0.35">0</text>
<line x1="446.30" y1="643.73" x2="451.80" y2="643.73" stroke="#000" stroke-width="1.9" />
<text x="446.10" y="647.73" font-size="11.6" text-anchor="end" fill="#0d0d0d" stroke="#0d0d0d" stroke-width="0.22" letter-spacing="-0.35">50</text>
<line x1="446.30" y1="571.05" x2="451.80" y2="571.05" stroke="#000" stroke-width="1.9" />
<text x="446.10" y="575.05" font-size="11.6" text-anchor="end" fill="#0d0d0d" stroke="#0d0d0d" stroke-width="0.22" letter-spacing="-0.35">100</text>
<text x="418.80" y="639.10" font-size="12.2" text-anchor="middle" fill="#0d0d0d" stroke="#0d0d0d" stroke-width="0.22" transform="rotate(-90 418.80 639.10)" >Luciferase Activity (% control)</text>
<line x1="487.15" y1="564.60" x2="487.15" y2="572.10" stroke="#000" stroke-width="1.45" />
<line x1="477.85" y1="564.60" x2="496.45" y2="564.60" stroke="#000" stroke-width="1.45" />
<rect x="468.5" y="571.1" width="37.30" height="145.30" fill="#000"/>
<line x1="539.80" y1="621.60" x2="539.80" y2="632.60" stroke="#000" stroke-width="1.45" />
<line x1="530.50" y1="621.60" x2="549.10" y2="621.60" stroke="#000" stroke-width="1.45" />
<rect x="521.2" y="631.6" width="37.20" height="84.80" fill="#000"/>
<line x1="487.10" y1="716.40" x2="487.10" y2="722.20" stroke="#000" stroke-width="1.9" />
<text x="487.10" y="733.80" font-size="11" text-anchor="middle" fill="#0d0d0d" stroke="#0d0d0d" stroke-width="0.22" >0</text>
<line x1="539.80" y1="716.40" x2="539.80" y2="722.20" stroke="#000" stroke-width="1.9" />
<text x="539.80" y="733.80" font-size="11" text-anchor="middle" fill="#0d0d0d" stroke="#0d0d0d" stroke-width="0.22" >0.5</text>
<line x1="592.50" y1="716.40" x2="592.50" y2="722.20" stroke="#000" stroke-width="1.9" />
<text x="592.50" y="733.80" font-size="11" text-anchor="middle" fill="#0d0d0d" stroke="#0d0d0d" stroke-width="0.22" >5</text>
<line x1="645.30" y1="716.40" x2="645.30" y2="722.20" stroke="#000" stroke-width="1.9" />
<text x="645.30" y="733.80" font-size="11" text-anchor="middle" fill="#0d0d0d" stroke="#0d0d0d" stroke-width="0.22" >10</text>
<text x="537.30" y="615.50" font-size="10.8" text-anchor="middle" fill="#0d0d0d" stroke="#0d0d0d" stroke-width="0.22" >p = 0.0001</text>
<text x="619.70" y="696.10" font-size="10.8" text-anchor="middle" fill="#0d0d0d" stroke="#0d0d0d" stroke-width="0.22" >p &lt; 0.0001</text>
<line x1="586.00" y1="704.80" x2="654.50" y2="704.80" stroke="#000" stroke-width="1.2" />
<text x="567.80" y="752.00" font-size="12.7" text-anchor="middle" fill="#0d0d0d" stroke="#0d0d0d" stroke-width="0.22" >ivermectin (µM)</text>
<line x1="92.30" y1="834.00" x2="92.30" y2="988.15" stroke="#000" stroke-width="1.5" />
<line x1="91.55" y1="987.40" x2="322.50" y2="987.40" stroke="#000" stroke-width="1.5" />
<line x1="87.00" y1="987.40" x2="92.30" y2="987.40" stroke="#000" stroke-width="1.5" />
<text x="85.50" y="991.40" font-size="11" text-anchor="end" fill="#000" stroke="#000" stroke-width="0.22" font-weight="bold">0.0</text>
<line x1="87.00" y1="923.60" x2="92.30" y2="923.60" stroke="#000" stroke-width="1.5" />
<text x="85.50" y="927.60" font-size="11" text-anchor="end" fill="#000" stroke="#000" stroke-width="0.22" font-weight="bold">0.5</text>
<line x1="87.00" y1="859.80" x2="92.30" y2="859.80" stroke="#000" stroke-width="1.5" />
<text x="85.50" y="863.80" font-size="11" text-anchor="end" fill="#000" stroke="#000" stroke-width="0.22" font-weight="bold">1.0</text>
<text x="63.50" y="911.10" font-size="12.3" text-anchor="middle" fill="#0d0d0d" stroke="#0d0d0d" stroke-width="0.22" transform="rotate(-90 63.50 911.10)" >Viability (luminescence relative cont.)</text>
<line x1="110.90" y1="845.40" x2="110.90" y2="860.10" stroke="#000" stroke-width="1.15" />
<line x1="105.90" y1="845.40" x2="115.90" y2="845.40" stroke="#000" stroke-width="1.15" />
<rect x="101.80" y="860.60" width="18.2" height="126.80" fill="#000" stroke="#000" stroke-width="1.25"/>
<line x1="110.90" y1="987.40" x2="110.90" y2="992.40" stroke="#000" stroke-width="1.5" />
<text x="114.90" y="999.40" font-size="11.85" text-anchor="end" fill="#0d0d0d" stroke="#0d0d0d" stroke-width="0.22" transform="rotate(-45 114.90 999.40)" >Cont</text>
<line x1="138.54" y1="865.30" x2="138.54" y2="881.50" stroke="#000" stroke-width="1.15" />
<line x1="133.54" y1="865.30" x2="143.54" y2="865.30" stroke="#000" stroke-width="1.15" />
<rect x="129.44" y="882.00" width="18.2" height="105.40" fill="#b3b3b3" stroke="#000" stroke-width="1.25"/>
<line x1="138.54" y1="987.40" x2="138.54" y2="992.40" stroke="#000" stroke-width="1.5" />
<text x="142.54" y="999.40" font-size="11.85" text-anchor="end" fill="#0d0d0d" stroke="#0d0d0d" stroke-width="0.22" transform="rotate(-45 142.54 999.40)" >100 nM LMB</text>
<line x1="166.18" y1="855.30" x2="166.18" y2="860.10" stroke="#000" stroke-width="1.15" />
<line x1="161.18" y1="855.30" x2="171.18" y2="855.30" stroke="#000" stroke-width="1.15" />
<rect x="157.08" y="860.60" width="18.2" height="126.80" fill="#000" stroke="#000" stroke-width="1.25"/>
<line x1="166.18" y1="987.40" x2="166.18" y2="992.40" stroke="#000" stroke-width="1.5" />
<text x="170.18" y="999.40" font-size="11.85" text-anchor="end" fill="#0d0d0d" stroke="#0d0d0d" stroke-width="0.22" transform="rotate(-45 170.18 999.40)" >Cont</text>
<line x1="193.82" y1="847.10" x2="193.82" y2="850.80" stroke="#000" stroke-width="1.15" />
<line x1="188.82" y1="847.10" x2="198.82" y2="847.10" stroke="#000" stroke-width="1.15" />
<rect x="184.72" y="851.30" width="18.2" height="136.10" fill="#fff" stroke="#000" stroke-width="1.25"/>
<line x1="193.82" y1="987.40" x2="193.82" y2="992.40" stroke="#000" stroke-width="1.5" />
<text x="197.82" y="999.40" font-size="11.85" text-anchor="end" fill="#0d0d0d" stroke="#0d0d0d" stroke-width="0.22" transform="rotate(-45 197.82 999.40)" >1 µM ivermectin</text>
<line x1="221.46" y1="857.00" x2="221.46" y2="860.10" stroke="#000" stroke-width="1.15" />
<line x1="216.46" y1="857.00" x2="226.46" y2="857.00" stroke="#000" stroke-width="1.15" />
<rect x="212.36" y="860.60" width="18.2" height="126.80" fill="#000" stroke="#000" stroke-width="1.25"/>
<line x1="221.46" y1="987.40" x2="221.46" y2="992.40" stroke="#000" stroke-width="1.5" />
<text x="225.46" y="999.40" font-size="11.85" text-anchor="end" fill="#0d0d0d" stroke="#0d0d0d" stroke-width="0.22" transform="rotate(-45 225.46 999.40)" >Cont</text>
<line x1="249.10" y1="849.70" x2="249.10" y2="851.40" stroke="#000" stroke-width="1.15" />
<line x1="244.10" y1="849.70" x2="254.10" y2="849.70" stroke="#000" stroke-width="1.15" />
<rect x="240.00" y="851.90" width="18.2" height="135.50" fill="#fff" stroke="#000" stroke-width="1.25"/>
<line x1="249.10" y1="987.40" x2="249.10" y2="992.40" stroke="#000" stroke-width="1.5" />
<text x="253.10" y="999.40" font-size="11.85" text-anchor="end" fill="#0d0d0d" stroke="#0d0d0d" stroke-width="0.22" transform="rotate(-45 253.10 999.40)" >5 µM ivermectin</text>
<line x1="276.74" y1="851.10" x2="276.74" y2="853.60" stroke="#000" stroke-width="1.15" />
<line x1="271.74" y1="851.10" x2="281.74" y2="851.10" stroke="#000" stroke-width="1.15" />
<rect x="267.64" y="854.10" width="18.2" height="133.30" fill="#000" stroke="#000" stroke-width="1.25"/>
<line x1="276.74" y1="987.40" x2="276.74" y2="992.40" stroke="#000" stroke-width="1.5" />
<text x="280.74" y="999.40" font-size="11.85" text-anchor="end" fill="#0d0d0d" stroke="#0d0d0d" stroke-width="0.22" transform="rotate(-45 280.74 999.40)" >Cont</text>
<line x1="304.38" y1="857.60" x2="304.38" y2="864.00" stroke="#000" stroke-width="1.15" />
<line x1="299.38" y1="857.60" x2="309.38" y2="857.60" stroke="#000" stroke-width="1.15" />
<rect x="295.28" y="864.50" width="18.2" height="122.90" fill="#fff" stroke="#000" stroke-width="1.25"/>
<line x1="304.38" y1="987.40" x2="304.38" y2="992.40" stroke="#000" stroke-width="1.5" />
<text x="308.38" y="999.40" font-size="11.85" text-anchor="end" fill="#0d0d0d" stroke="#0d0d0d" stroke-width="0.22" transform="rotate(-45 308.38 999.40)" >10 µM ivermectin</text>
<line x1="91.55" y1="987.40" x2="322.50" y2="987.40" stroke="#000" stroke-width="1.5" />
</svg>
</body></html>
